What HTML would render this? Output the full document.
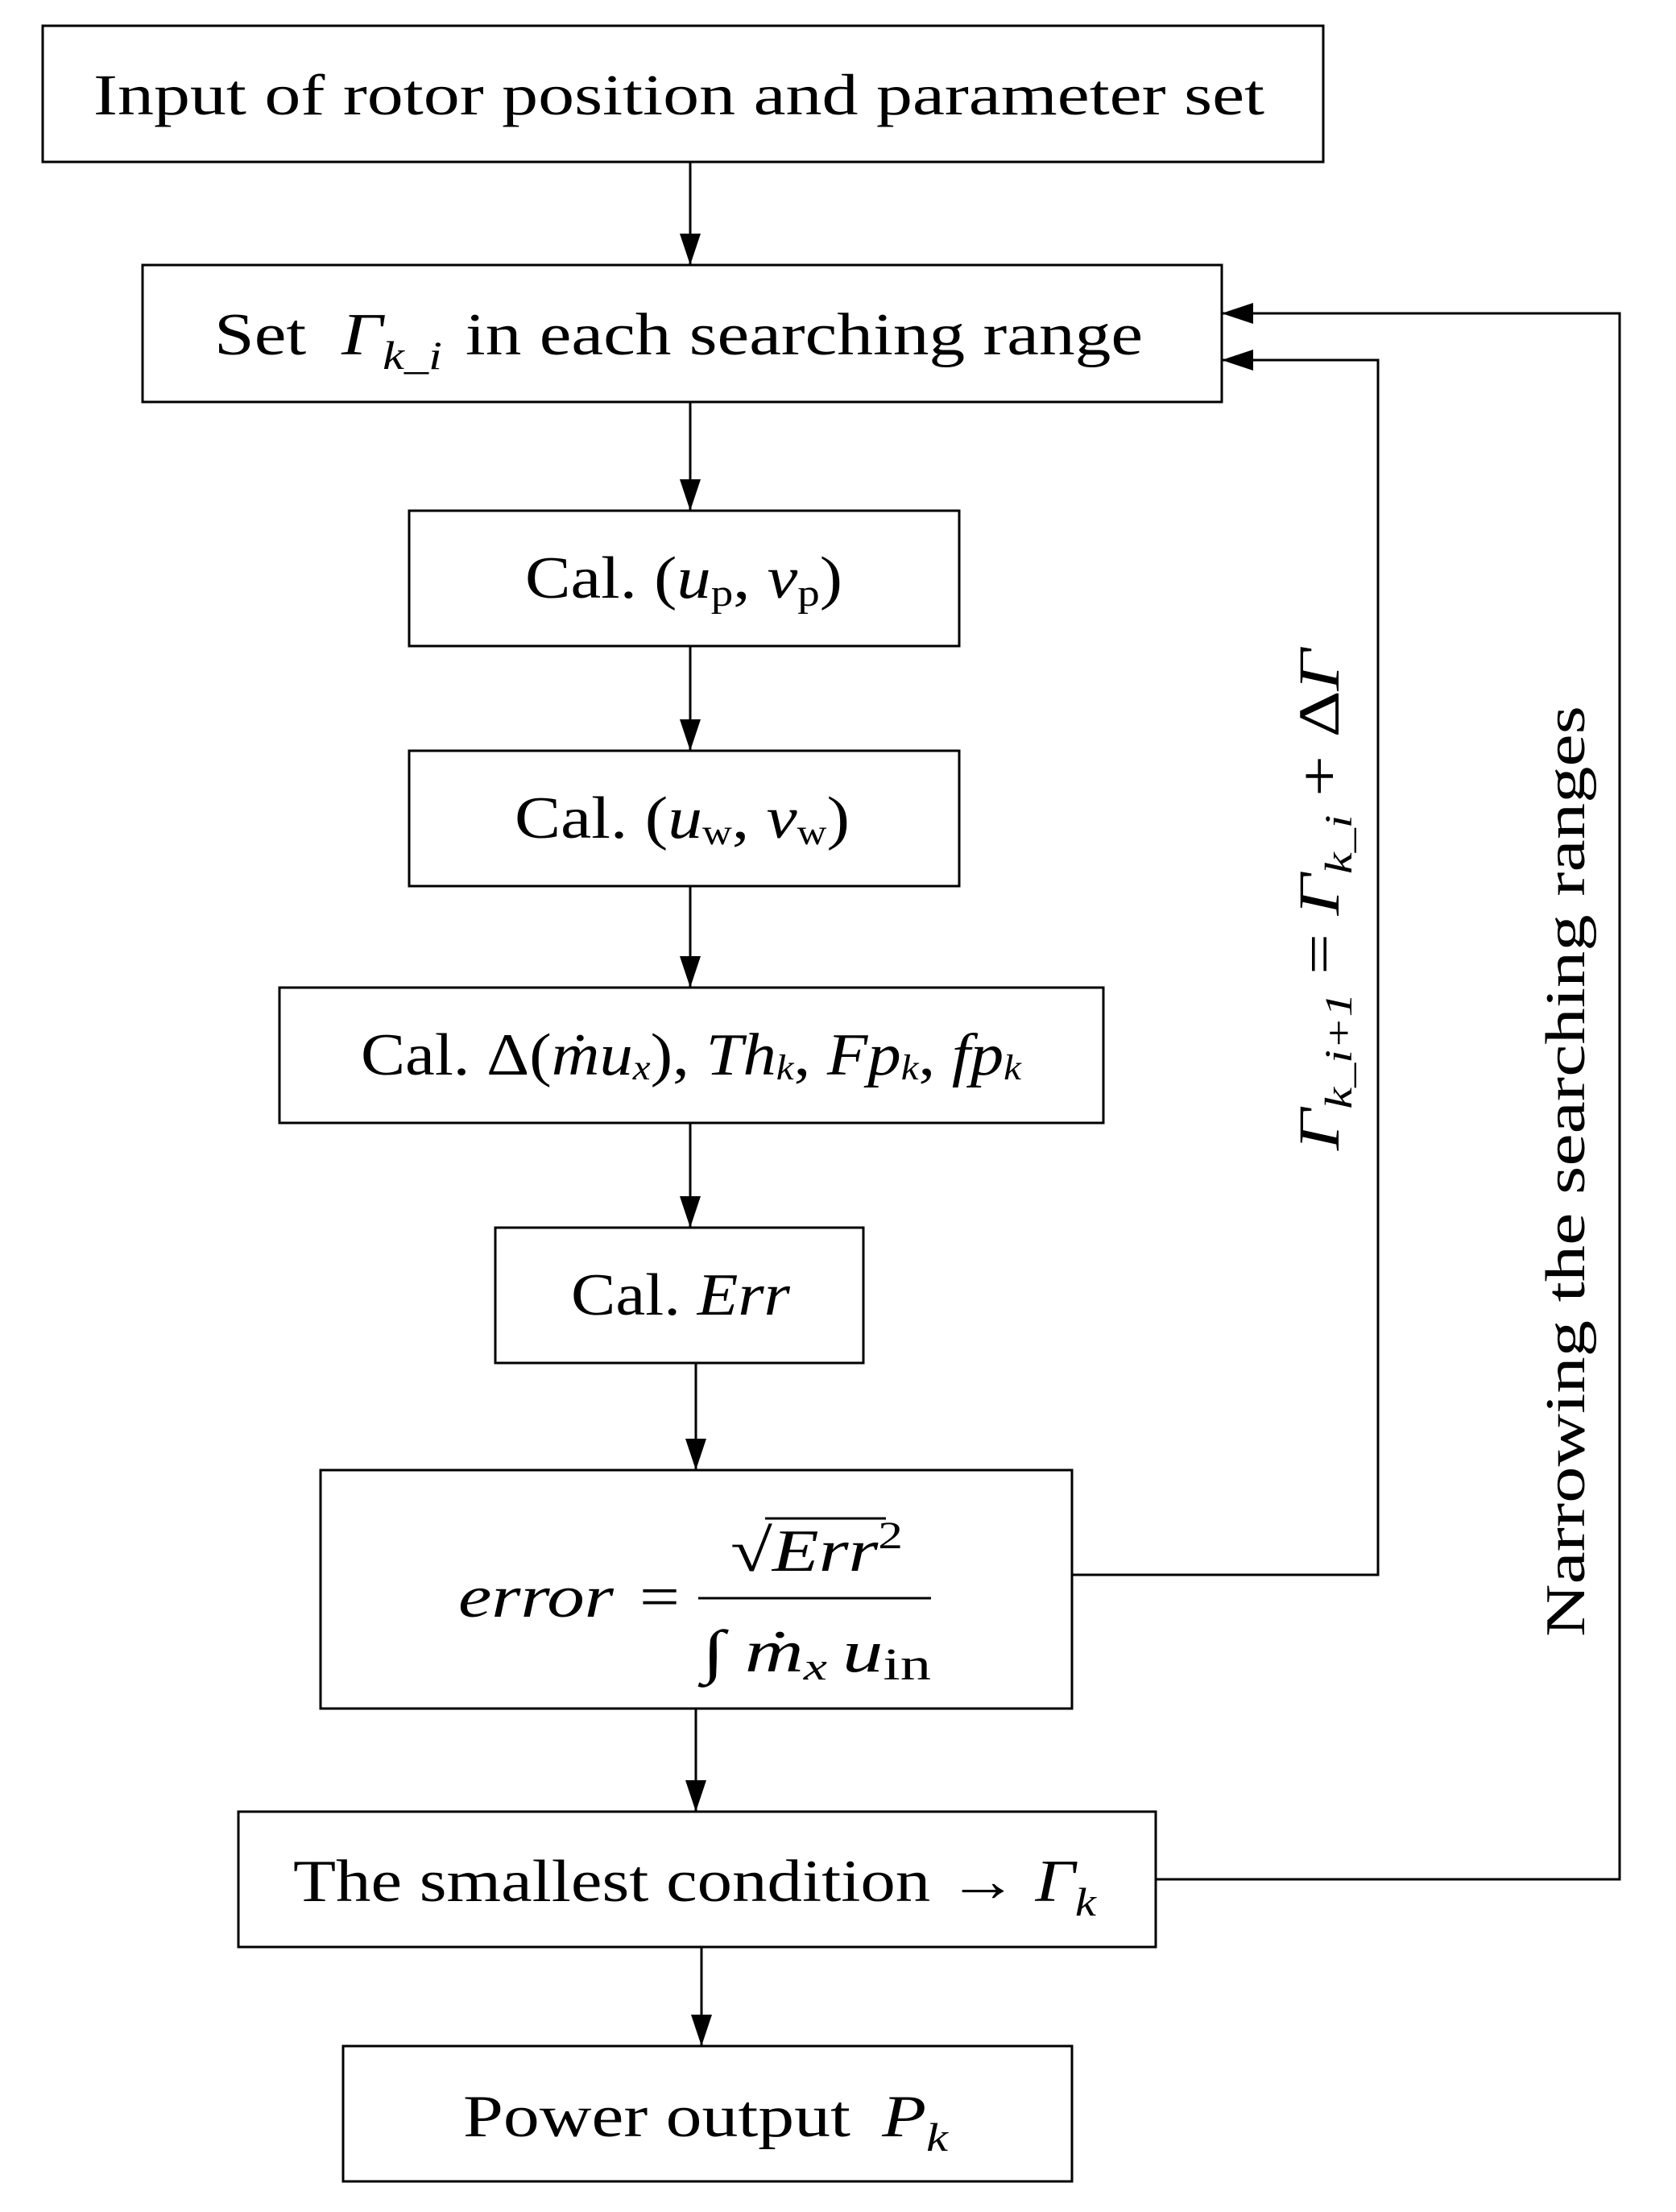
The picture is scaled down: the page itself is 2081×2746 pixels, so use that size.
<!DOCTYPE html>
<html><head><meta charset="utf-8"><style>
html,body{margin:0;padding:0;background:#fff}
svg{display:block}
text{font-family:"Liberation Serif",serif;fill:#000}
.i{font-style:italic}
</style></head><body>
<svg width="2081" height="2746" viewBox="0 0 2081 2746" xmlns="http://www.w3.org/2000/svg">
<g fill="none" stroke="#000" stroke-width="3">
<rect x="53" y="32" width="1590" height="169"/>
<rect x="177" y="329" width="1340" height="170"/>
<rect x="508" y="634" width="683" height="168"/>
<rect x="508" y="932" width="683" height="168"/>
<rect x="347" y="1226" width="1023" height="168"/>
<rect x="615" y="1524" width="457" height="168"/>
<rect x="398" y="1825" width="933" height="296"/>
<rect x="296" y="2249" width="1139" height="168"/>
<rect x="426" y="2540" width="905" height="168"/>
</g>
<g stroke="#000" stroke-width="3" fill="none">
<path d="M857 201V329"/><path d="M857 499V634"/><path d="M857 802V932"/><path d="M857 1100V1226"/><path d="M857 1394V1524"/>
<path d="M864 1692V1825"/><path d="M864 2121V2249"/><path d="M871 2417V2540"/>
<path d="M1435 2333H2011V389H1517"/>
<path d="M1331 1955H1711V447H1517"/>
</g>
<g fill="#000">
<path d="M844 290L870 290L857 329z"/><path d="M844 595L870 595L857 634z"/><path d="M844 893L870 893L857 932z"/><path d="M844 1187L870 1187L857 1226z"/><path d="M844 1485L870 1485L857 1524z"/>
<path d="M851 1786L877 1786L864 1825z"/><path d="M851 2210L877 2210L864 2249z"/><path d="M858 2501L884 2501L871 2540z"/>
<path d="M1517 389L1556 376L1556 402z"/><path d="M1517 447L1556 434L1556 460z"/>
</g>
<text x="116" y="142" font-size="72" textLength="1454" lengthAdjust="spacingAndGlyphs">Input of rotor position and parameter set</text>
<text x="266" y="440" font-size="74" textLength="1153" lengthAdjust="spacingAndGlyphs">Set <tspan class="i" dx="18">Γ</tspan><tspan class="i" font-size="50" dy="18">k_i</tspan><tspan dy="-18" dx="24">in each searching range</tspan></text>
<text x="652" y="742" font-size="74" textLength="394" lengthAdjust="spacingAndGlyphs">Cal. (<tspan class="i">u</tspan><tspan font-size="48" dy="10">p</tspan><tspan dy="-10">, </tspan><tspan class="i">v</tspan><tspan font-size="48" dy="10">p</tspan><tspan dy="-10">)</tspan></text>
<text x="639" y="1040" font-size="74" textLength="416" lengthAdjust="spacingAndGlyphs">Cal. (<tspan class="i">u</tspan><tspan font-size="44" dy="8">w</tspan><tspan dy="-8">, </tspan><tspan class="i">v</tspan><tspan font-size="44" dy="8">w</tspan><tspan dy="-8">)</tspan></text>
<text x="448" y="1334" font-size="74" textLength="820" lengthAdjust="spacingAndGlyphs">Cal. Δ(<tspan class="i">ṁu</tspan><tspan class="i" font-size="44" dy="6">x</tspan><tspan dy="-6">), </tspan><tspan class="i">Th</tspan><tspan class="i" font-size="44" dy="6">k</tspan><tspan dy="-6">, </tspan><tspan class="i">Fp</tspan><tspan class="i" font-size="44" dy="6">k</tspan><tspan dy="-6">, </tspan><tspan class="i">fp</tspan><tspan class="i" font-size="44" dy="6">k</tspan></text>
<text x="709" y="1632" font-size="74" textLength="272" lengthAdjust="spacingAndGlyphs">Cal. <tspan class="i">Err</tspan></text>
<text x="569" y="2007" font-size="74" class="i" textLength="193" lengthAdjust="spacingAndGlyphs">error</text>
<text x="794" y="2007" font-size="74" textLength="50" lengthAdjust="spacingAndGlyphs">=</text>
<line x1="867" y1="1984" x2="1156" y2="1984" stroke="#000" stroke-width="3"/>
<text x="907" y="1950" font-size="74" textLength="214" lengthAdjust="spacingAndGlyphs">√<tspan class="i">Err</tspan><tspan font-size="48" dy="-28">2</tspan></text>
<line x1="950" y1="1885" x2="1100" y2="1885" stroke="#000" stroke-width="3"/>
<text x="872" y="2075" font-size="74" textLength="284" lengthAdjust="spacingAndGlyphs">∫ <tspan class="i">ṁ</tspan><tspan class="i" font-size="48" dy="10">x</tspan><tspan class="i" dy="-10" dx="14">u</tspan><tspan font-size="56" dy="10">in</tspan></text>
<text x="364" y="2360" font-size="74" textLength="997" lengthAdjust="spacingAndGlyphs">The smallest condition → <tspan class="i">Γ</tspan><tspan class="i" font-size="50" dy="18">k</tspan></text>
<text x="575" y="2652" font-size="74" textLength="602" lengthAdjust="spacingAndGlyphs">Power output <tspan class="i" dx="14">P</tspan><tspan class="i" font-size="50" dy="18">k</tspan></text>
<text transform="translate(1662,1428) rotate(-90)" font-size="72" textLength="622" lengthAdjust="spacingAndGlyphs"><tspan class="i">Γ</tspan><tspan class="i" font-size="48" dy="16">k_i+1</tspan><tspan dy="-16"> = </tspan><tspan class="i">Γ</tspan><tspan class="i" font-size="48" dy="16">k_i</tspan><tspan dy="-16"> + Δ</tspan><tspan class="i">Γ</tspan></text>
<text transform="translate(1967,2032) rotate(-90)" font-size="70" textLength="1156" lengthAdjust="spacingAndGlyphs">Narrowing the searching ranges</text>
</svg>
</body></html>
